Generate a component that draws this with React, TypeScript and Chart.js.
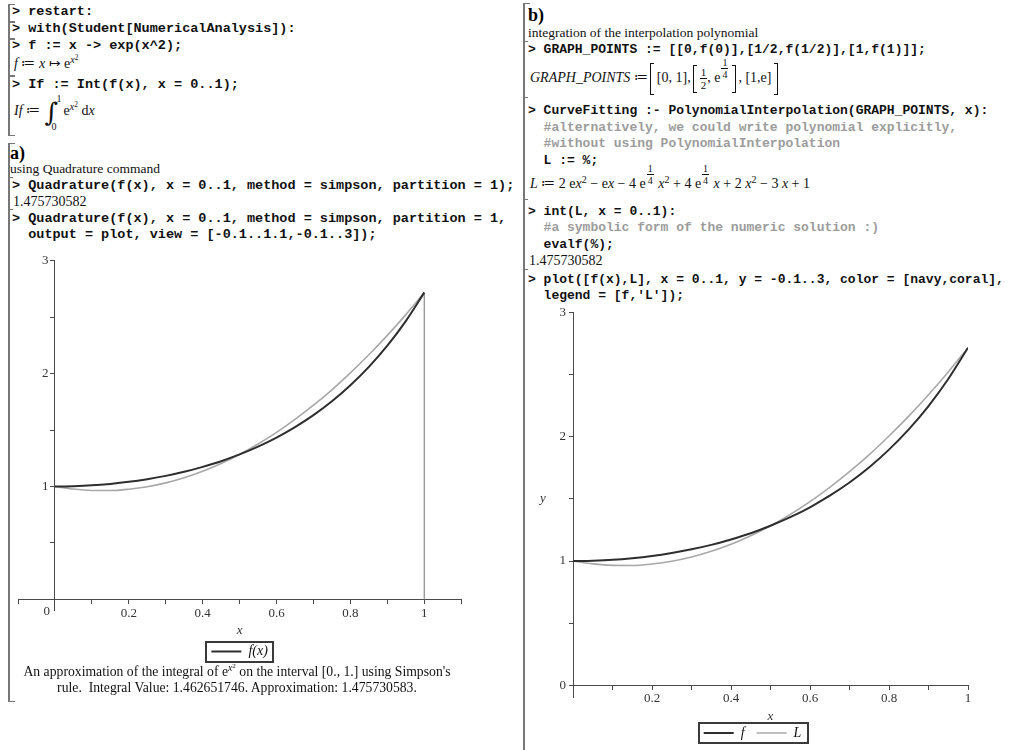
import React, { useEffect, useRef } from 'react';
import { Chart, registerables } from 'chart.js';

Chart.register(...registerables);

// ---------- data ----------
const X_SAMPLES = [0, 0.05, 0.1, 0.15, 0.2, 0.25, 0.3, 0.35, 0.4, 0.45, 0.5, 0.55, 0.6, 0.65, 0.7, 0.75, 0.8, 0.85, 0.9, 0.95, 1];
const F_VALUES = [1.0, 1.003, 1.01, 1.023, 1.041, 1.065, 1.094, 1.13, 1.174, 1.224, 1.284, 1.353, 1.433, 1.526, 1.632, 1.755, 1.897, 2.06, 2.248, 2.466, 2.718];
const L_VALUES = [1.0, 0.977, 0.965, 0.964, 0.976, 0.998, 1.032, 1.078, 1.135, 1.204, 1.284, 1.376, 1.479, 1.594, 1.72, 1.857, 2.007, 2.167, 2.339, 2.523, 2.718];
const EDGE_X = [1, 1];
const EDGE_Y = [0, 2.718];

const A_X_TICKS = [-0.1, 0, 0.1, 0.2, 0.3, 0.4, 0.5, 0.6, 0.7, 0.8, 0.9, 1, 1.1];
const A_Y_TICKS = [0, 0.5, 1, 1.5, 2, 2.5, 3];
const A_Y_LABEL_VALUES = [1, 2, 3];
const A_Y_LABELS = ['1', '2', '3'];
const B_X_TICKS = [0.1, 0.2, 0.3, 0.4, 0.5, 0.6, 0.7, 0.8, 0.9, 1];
const B_Y_TICKS = [0, 0.5, 1, 1.5, 2, 2.5, 3];
const B_Y_LABEL_VALUES = [0, 1, 2, 3];
const B_Y_LABELS = ['0', '1', '2', '3'];
const X_LABEL_VALUES = [0.2, 0.4, 0.6, 0.8, 1];
const X_LABELS = ['0.2', '0.4', '0.6', '0.8', '1'];

// ---------- styles ----------
const SERIF = '"Liberation Serif", "Times New Roman", serif';
const MONO = '"Liberation Mono", "Courier New", monospace';
const DARK = '#2e2e2e';
const LIGHT = '#a8a8a8';
const AXIS = '#4a4a4a';

const pts = (xs: number[], ys: number[]) => xs.map((x, i) => ({ x, y: ys[i] }));
const labelFor = (vals: number[], texts: string[], suffix = '') => (v: any) => {
  const i = vals.findIndex((t) => Math.abs(t - Number(v)) < 1e-9);
  return i >= 0 ? texts[i] + suffix : '';
};

const legendFrame = {
  id: 'legendFrame',
  afterDraw(chart: any) {
    const boxes = chart.legend && chart.legend.legendHitBoxes;
    if (!boxes || !boxes.length) return;
    const left = Math.min(...boxes.map((b: any) => b.left)) - 5;
    const right = Math.max(...boxes.map((b: any) => b.left + b.width)) + 6;
    const top = boxes[0].top - 3;
    const bottom = boxes[0].top + boxes[0].height + 3;
    const ctx = chart.ctx;
    ctx.save();
    ctx.strokeStyle = '#3a3a3a';
    ctx.lineWidth = 2;
    ctx.strokeRect(Math.round(left), Math.round(top), Math.round(right - left), Math.round(bottom - top));
    ctx.restore();
  },
};

const originLabel = {
  id: 'originLabel',
  afterDraw(chart: any) {
    const ctx = chart.ctx;
    const x = chart.scales.x.getPixelForValue(0);
    const y = chart.scales.y.getPixelForValue(0);
    ctx.save();
    ctx.font = `13px ${SERIF}`;
    ctx.fillStyle = '#333';
    ctx.textAlign = 'right';
    ctx.textBaseline = 'top';
    ctx.fillText('0', x - 5, y + 6);
    ctx.restore();
  },
};

const yLetter = {
  id: 'yLetter',
  afterDraw(chart: any) {
    const ctx = chart.ctx;
    const ys = chart.scales.y;
    ctx.save();
    ctx.font = `italic 13px ${SERIF}`;
    ctx.fillStyle = '#333';
    ctx.textAlign = 'center';
    ctx.textBaseline = 'middle';
    ctx.fillText('y', ys.left + 6, ys.getPixelForValue(1.5));
    ctx.restore();
  },
};

const tickFont = { family: SERIF, size: 13 };
const gridOpts = { drawOnChartArea: false, drawTicks: true, tickLength: 4, tickColor: AXIS, color: AXIS };
const borderOpts = { display: true, color: AXIS, width: 1 };

function PlotA() {
  const ref = useRef<HTMLCanvasElement>(null);
  useEffect(() => {
    const chart = new Chart(ref.current as HTMLCanvasElement, {
      type: 'scatter',
      data: {
        datasets: [
          { label: 'f(x)', data: pts(X_SAMPLES, F_VALUES), borderColor: DARK, backgroundColor: DARK, borderWidth: 2, showLine: true, pointRadius: 0, cubicInterpolationMode: 'monotone', order: 0 } as any,
          { label: 'Simpson', data: pts(X_SAMPLES, L_VALUES), borderColor: LIGHT, backgroundColor: LIGHT, borderWidth: 1.6, showLine: true, pointRadius: 0, cubicInterpolationMode: 'monotone', order: 1 } as any,
          { label: 'edge', data: pts(EDGE_X, EDGE_Y), borderColor: '#8a8a8a', backgroundColor: '#8a8a8a', borderWidth: 1.2, showLine: true, pointRadius: 0, order: 2 } as any,
        ],
      },
      options: {
        animation: false,
        responsive: false,
        maintainAspectRatio: false,
        layout: { padding: { left: 18, right: 33.8, top: 10, bottom: 1.5 } },
        plugins: {
          tooltip: { enabled: false },
          legend: {
            display: true,
            position: 'bottom',
            align: 'center',
            title: { display: true, text: '', font: { size: 1 }, padding: { top: 22.7, bottom: 0 } },
            labels: {
              usePointStyle: true,
              pointStyle: 'line',
              pointStyleWidth: 30,
              padding: 10,
              color: '#111',
              font: { family: SERIF, size: 14, style: 'italic' },
              filter: (item: any) => item.datasetIndex === 0,
            },
          },
        },
        scales: {
          x: {
            type: 'linear',
            min: -0.1,
            max: 1.1,
            position: { y: 0 } as any,
            afterBuildTicks: (s: any) => { s.ticks = A_X_TICKS.map((v) => ({ value: v })); },
            ticks: { autoSkip: false, maxRotation: 0, padding: 2, color: '#333', font: tickFont, callback: labelFor(X_LABEL_VALUES, X_LABELS) },
            grid: gridOpts as any,
            border: borderOpts,
            title: { display: true, text: 'x', color: '#333', font: { family: SERIF, size: 13, style: 'italic' }, padding: { top: 0, bottom: 0 } },
          },
          y: {
            type: 'linear',
            min: -0.1,
            max: 3,
            position: { x: 0 } as any,
            afterBuildTicks: (s: any) => { s.ticks = A_Y_TICKS.map((v) => ({ value: v })); },
            ticks: { autoSkip: false, padding: 3, color: '#333', font: tickFont, callback: labelFor(A_Y_LABEL_VALUES, A_Y_LABELS, '\u2007') },
            grid: gridOpts as any,
            border: borderOpts,
          },
        },
      } as any,
      plugins: [legendFrame, originLabel],
    });
    return () => chart.destroy();
  }, []);
  return <canvas ref={ref} width={495} height={420} style={{ position: 'absolute', left: 0, top: 250, width: 495, height: 420 }} />;
}

function PlotB() {
  const ref = useRef<HTMLCanvasElement>(null);
  useEffect(() => {
    const chart = new Chart(ref.current as HTMLCanvasElement, {
      type: 'scatter',
      data: {
        datasets: [
          { label: 'f', data: pts(X_SAMPLES, F_VALUES), borderColor: DARK, backgroundColor: DARK, borderWidth: 2, showLine: true, pointRadius: 0, cubicInterpolationMode: 'monotone' } as any,
          { label: 'L', data: pts(X_SAMPLES, L_VALUES), borderColor: LIGHT, backgroundColor: LIGHT, borderWidth: 1.6, showLine: true, pointRadius: 0, cubicInterpolationMode: 'monotone' } as any,
        ],
      },
      options: {
        animation: false,
        responsive: false,
        maintainAspectRatio: false,
        layout: { padding: { left: 14, right: 62, top: 12.7, bottom: 0 } },
        plugins: {
          tooltip: { enabled: false },
          legend: {
            display: true,
            position: 'bottom',
            align: 'center',
            title: { display: true, text: '', font: { size: 1 }, padding: { top: 15.2, bottom: 0 } },
            labels: {
              usePointStyle: true,
              pointStyle: 'line',
              pointStyleWidth: 30,
              padding: 12,
              color: '#111',
              font: { family: SERIF, size: 14, style: 'italic' },
            },
          },
        },
        scales: {
          x: {
            type: 'linear',
            min: 0,
            max: 1,
            position: { y: 0 } as any,
            afterBuildTicks: (s: any) => { s.ticks = B_X_TICKS.map((v) => ({ value: v })); },
            ticks: { autoSkip: false, maxRotation: 0, padding: 2, color: '#333', font: tickFont, callback: labelFor(X_LABEL_VALUES, X_LABELS) },
            grid: gridOpts as any,
            border: borderOpts,
            title: { display: true, text: 'x', color: '#333', font: { family: SERIF, size: 13, style: 'italic' }, padding: { top: 0, bottom: 0 } },
          },
          y: {
            type: 'linear',
            min: -0.1,
            max: 3,
            position: 'left',
            afterFit: (s: any) => { s.width = 36; },
            afterBuildTicks: (s: any) => { s.ticks = B_Y_TICKS.map((v) => ({ value: v })); },
            ticks: { autoSkip: false, padding: 3, color: '#333', font: tickFont, callback: labelFor(B_Y_LABEL_VALUES, B_Y_LABELS) },
            grid: gridOpts as any,
            border: borderOpts,
          },
        },
      } as any,
      plugins: [legendFrame, yLetter],
    });
    return () => chart.destroy();
  }, []);
  return <canvas ref={ref} width={507} height={450} style={{ position: 'absolute', left: 523, top: 300, width: 507, height: 450 }} />;
}

// ---------- text helpers ----------
type TP = { x: number; y: number; k?: 'code' | 'cmt' | 'out' | 'head'; size?: number; children: React.ReactNode; style?: React.CSSProperties };
function T({ x, y, k = 'code', size, children, style }: TP) {
  const base: React.CSSProperties =
    k === 'code'
      ? { fontFamily: MONO, fontWeight: 'bold', fontSize: size || 13.5, color: '#111' }
      : k === 'cmt'
      ? { fontFamily: MONO, fontWeight: 'bold', fontSize: size || 13.5, color: '#9c9c9c' }
      : k === 'head'
      ? { fontFamily: SERIF, fontWeight: 'bold', fontSize: 18, color: '#000' }
      : { fontFamily: SERIF, fontSize: size || 14, color: '#111' };
  return (
    <div style={{ position: 'absolute', left: x, top: y - 10, height: 20, lineHeight: '20px', whiteSpace: 'pre', ...base, ...style }}>
      {children}
    </div>
  );
}

const Sup = ({ children, raise = '0.5em' }: { children: React.ReactNode; raise?: string }) => (
  <span style={{ fontSize: '72%', verticalAlign: raise, lineHeight: 0 }}>{children}</span>
);
const X2 = () => (
  <>
    <i>x</i>
    <Sup raise="0.45em">2</Sup>
  </>
);
const Frac = ({ n, d, size = 10 }: { n: string; d: string; size?: number }) => (
  <span style={{ display: 'inline-flex', flexDirection: 'column', alignItems: 'center', fontSize: size, lineHeight: `${size + 1}px`, verticalAlign: 'middle' }}>
    <span style={{ borderBottom: '1px solid #111', padding: '0 1px' }}>{n}</span>
    <span>{d}</span>
  </span>
);
const ExpFrac = () => (
  <span style={{ display: 'inline-block', position: 'relative', top: -10, margin: '0 1px', lineHeight: 0, verticalAlign: 'middle' }}>
    <Frac n="1" d="4" size={10} />
  </span>
);
const TallBracket = ({ side, h }: { side: 'l' | 'r'; h: number }) => (
  <span
    style={{
      display: 'inline-block',
      width: 3,
      height: h,
      borderTop: '1px solid #111',
      borderBottom: '1px solid #111',
      borderLeft: side === 'l' ? '1px solid #111' : 'none',
      borderRight: side === 'r' ? '1px solid #111' : 'none',
      verticalAlign: 'middle',
      margin: side === 'l' ? '0 3px 0 2px' : '0 2px 0 3px',
    }}
  />
);

function Bracket({ x, top, bottom, notches = [] as number[] }: { x: number; top: number; bottom: number; notches?: number[] }) {
  return (
    <>
      <div style={{ position: 'absolute', left: x, top, width: 5, height: bottom - top, borderLeft: '2px solid #777', borderTop: '1px solid #777', borderBottom: '1px solid #777' }} />
      {notches.map((n) => (
        <div key={n} style={{ position: 'absolute', left: x, top: n, width: 5, height: 0, borderTop: '1px solid #777' }} />
      ))}
    </>
  );
}

const MATH: React.CSSProperties = { position: 'absolute', fontFamily: SERIF, fontSize: 14, whiteSpace: 'pre', color: '#111' };

export default function App() {
  const RX = 528;
  return (
    <div style={{ position: 'absolute', left: 0, top: 0, width: 1030, height: 750, overflow: 'hidden', background: '#fff', color: '#000' }}>
      {/* left column brackets */}
      <Bracket x={8} top={4} bottom={20} />
      <Bracket x={8} top={22} bottom={37} />
      <Bracket x={8} top={39} bottom={74} />
      <Bracket x={8} top={76} bottom={134} />
      <Bracket x={8} top={143} bottom={700} notches={[177, 209]} />
      {/* right column bracket */}
      <Bracket x={523} top={3} bottom={760} notches={[41, 97, 199, 269]} />

      {/* left column text */}
      <T x={12} y={12}>{'> restart:'}</T>
      <T x={12} y={29}>{'> with(Student[NumericalAnalysis]):'}</T>
      <T x={12} y={46}>{'> f := x -> exp(x^2);'}</T>
      <T x={14} y={64} k="out">
        <i>f</i> ≔ <i>x</i> ↦ e<Sup><X2 /></Sup>
      </T>
      <T x={12} y={85}>{'> If := Int(f(x), x = 0..1);'}</T>
      <div style={{ ...MATH, left: 14, top: 94, height: 34, lineHeight: '34px' }}>
        <i>If</i> ≔{' '}
        <span style={{ position: 'relative', display: 'inline-block', width: 20, height: 34, verticalAlign: 'middle', lineHeight: 'normal' }}>
          <span style={{ position: 'absolute', left: 1, top: 0, fontSize: 26, lineHeight: '34px', fontFamily: '"DejaVu Serif", serif' }}>∫</span>
          <span style={{ position: 'absolute', left: 13, top: -2, fontSize: 10 }}>1</span>
          <span style={{ position: 'absolute', left: 8, top: 26, fontSize: 10 }}>0</span>
        </span>
        e<Sup><X2 /></Sup> d<i>x</i>
      </div>

      <T x={10} y={153} k="head">a)</T>
      <T x={10} y={169} k="out" size={13.5}>using Quadrature command</T>
      <T x={12} y={186}>{'> Quadrature(f(x), x = 0..1, method = simpson, partition = 1);'}</T>
      <T x={13} y={202} k="out">1.475730582</T>
      <T x={12} y={219}>{'> Quadrature(f(x), x = 0..1, method = simpson, partition = 1,'}</T>
      <T x={12} y={235}>{'  output = plot, view = [-0.1..1.1,-0.1..3]);'}</T>

      <PlotA />

      <div style={{ position: 'absolute', left: 0, top: 664, width: 474, textAlign: 'center', fontFamily: SERIF, fontSize: 13.7, lineHeight: '16px', color: '#111' }}>
        An approximation of the integral of e<Sup><X2 /></Sup> on the interval [0., 1.] using Simpson's
        <br />
        rule.&nbsp; Integral Value: 1.462651746. Approximation: 1.475730583.
      </div>

      {/* right column text */}
      <T x={RX} y={15} k="head">b)</T>
      <T x={RX} y={33} k="out" size={13.5}>integration of the interpolation polynomial</T>
      <T x={RX} y={50} size={13}>{'> GRAPH_POINTS := [[0,f(0)],[1/2,f(1/2)],[1,f(1)]];'}</T>
      <div style={{ ...MATH, left: RX + 2, top: 62, height: 32, lineHeight: '32px' }}>
        <i>GRAPH_POINTS</i> ≔
        <TallBracket side="l" h={30} />
        [0, 1],
        <TallBracket side="l" h={26} />
        <Frac n="1" d="2" size={11} />, e<ExpFrac />
        <TallBracket side="r" h={26} />, [1,e]
        <TallBracket side="r" h={30} />
      </div>
      <T x={RX} y={111} size={13}>{'> CurveFitting :- PolynomialInterpolation(GRAPH_POINTS, x):'}</T>
      <T x={RX} y={128} k="cmt" size={13}>{'  #alternatively, we could write polynomial explicitly,'}</T>
      <T x={RX} y={144} k="cmt" size={13}>{'  #without using PolynomialInterpolation'}</T>
      <T x={RX} y={161} size={13}>{'  L := %;'}</T>
      <div style={{ ...MATH, left: RX + 2, top: 169, height: 30, lineHeight: '30px' }}>
        <i>L</i> ≔ 2 e<X2 /> − e<i>x</i> − 4 e<ExpFrac /> <X2 /> + 4 e<ExpFrac /> <i>x</i> + 2 <X2 /> − 3 <i>x</i> + 1
      </div>
      <T x={RX} y={212} size={13}>{'> int(L, x = 0..1):'}</T>
      <T x={RX} y={228} k="cmt" size={13}>{'  #a symbolic form of the numeric solution :)'}</T>
      <T x={RX} y={245} size={13}>{'  evalf(%);'}</T>
      <T x={RX + 1} y={261} k="out">1.475730582</T>
      <T x={RX} y={280} size={13}>{'> plot([f(x),L], x = 0..1, y = -0.1..3, color = [navy,coral],'}</T>
      <T x={RX} y={296} size={13}>{"  legend = [f,'L']);"}</T>

      <PlotB />
    </div>
  );
}
